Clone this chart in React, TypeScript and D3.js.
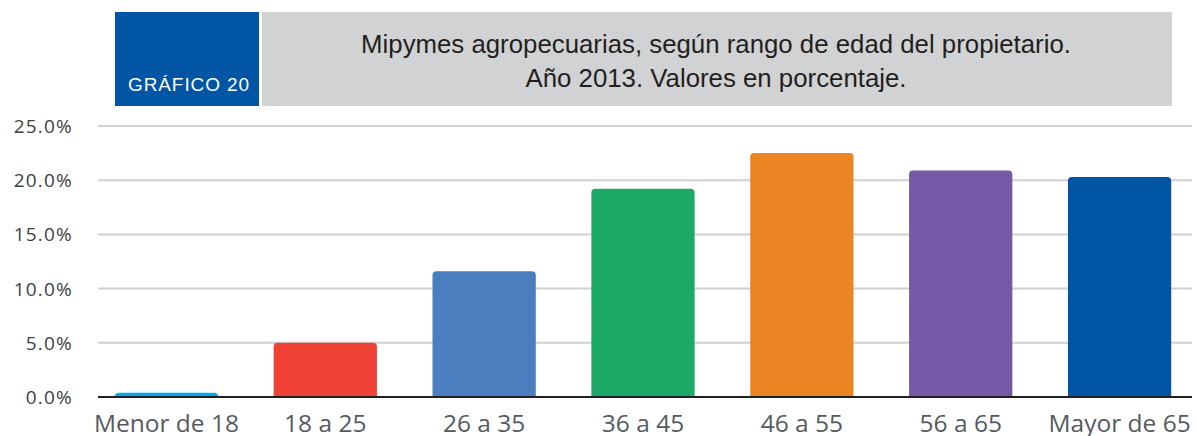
import { useMemo } from 'react';
import * as d3 from 'd3';

const categories = ['Menor de 18', '18 a 25', '26 a 35', '36 a 45', '46 a 55', '56 a 65', 'Mayor de 65'];
const values = [0.4, 5.0, 11.6, 19.2, 22.5, 20.9, 20.3];
const barColors = ['#00aeef', '#ef4136', '#4a7ebf', '#1ca866', '#eb8423', '#7359a6', '#0055a5'];
const yTicks = [0, 5, 10, 15, 20, 25];
const titleLines = ['Mipymes agropecuarias, según rango de edad del propietario.', 'Año 2013. Valores en porcentaje.'];
const badgeLabel = 'GRÁFICO 20';

const WIDTH = 1197;
const HEIGHT = 436;

export default function App() {
  const chart = useMemo(() => {
    const x = d3.scaleBand<string>().domain(categories).range([87, 1199]).paddingInner(0.35).paddingOuter(0.175);
    const y = d3.scaleLinear().domain([0, 25]).range([397, 126]);
    return { x, y };
  }, []);
  const { x, y } = chart;

  // bar with slightly rounded top corners
  const barPath = (left: number, top: number, w: number, bottom: number) => {
    const r = Math.min(4, bottom - top);
    const p = d3.path();
    p.moveTo(left, bottom);
    p.lineTo(left, top + r);
    p.quadraticCurveTo(left, top, left + r, top);
    p.lineTo(left + w - r, top);
    p.quadraticCurveTo(left + w, top, left + w, top + r);
    p.lineTo(left + w, bottom);
    p.closePath();
    return p.toString();
  };

  return (
    <svg width={WIDTH} height={HEIGHT} style={{ position: 'absolute', left: 0, top: 0, background: '#fff' }}>
      {/* header */}
      <rect x={115} y={12} width={144} height={94} fill="#0055a5" />
      <text x={128} y={91} fill="#fff" fontFamily="'Liberation Sans', Arial, sans-serif" fontSize={19} letterSpacing={0.9}>
        {badgeLabel}
      </text>
      <rect x={262} y={12} width={910} height={94} fill="#d1d2d4" />
      {titleLines.map((line, i) => (
        <text
          key={line}
          x={716}
          y={53 + i * 34}
          textAnchor="middle"
          fill="#231f20"
          fontFamily="'Liberation Sans', Arial, sans-serif"
          fontSize={25.8}
        >
          {line}
        </text>
      ))}

      {/* gridlines + y labels */}
      {yTicks.map((t) => (
        <g key={t}>
          {t > 0 && <line x1={98} x2={1192} y1={y(t)} y2={y(t)} stroke="#d0d0d0" strokeWidth={2} />}
          <text
            x={73}
            y={y(t) + 7}
            textAnchor="end"
            fill="#404040"
            fontFamily="'Open Sans', sans-serif"
            fontSize={19}
            letterSpacing={1.2}
          >
            {t.toFixed(1)}%
          </text>
        </g>
      ))}

      {/* bars */}
      {categories.map((c, i) => (
        <path
          key={c}
          d={barPath(x(c) ?? 0, y(values[i]), x.bandwidth(), y(0))}
          fill={barColors[i]}
        />
      ))}

      <line x1={98} x2={1192} y1={y(0)} y2={y(0)} stroke="#231f20" strokeWidth={2.2} />

      {/* category labels */}
      {categories.map((c) => (
        <text
          key={c}
          x={(x(c) ?? 0) + x.bandwidth() / 2}
          y={432}
          textAnchor="middle"
          fill="#555b60"
          fontFamily="'Open Sans', sans-serif"
          fontSize={24.5}
        >
          {c}
        </text>
      ))}
    </svg>
  );
}
